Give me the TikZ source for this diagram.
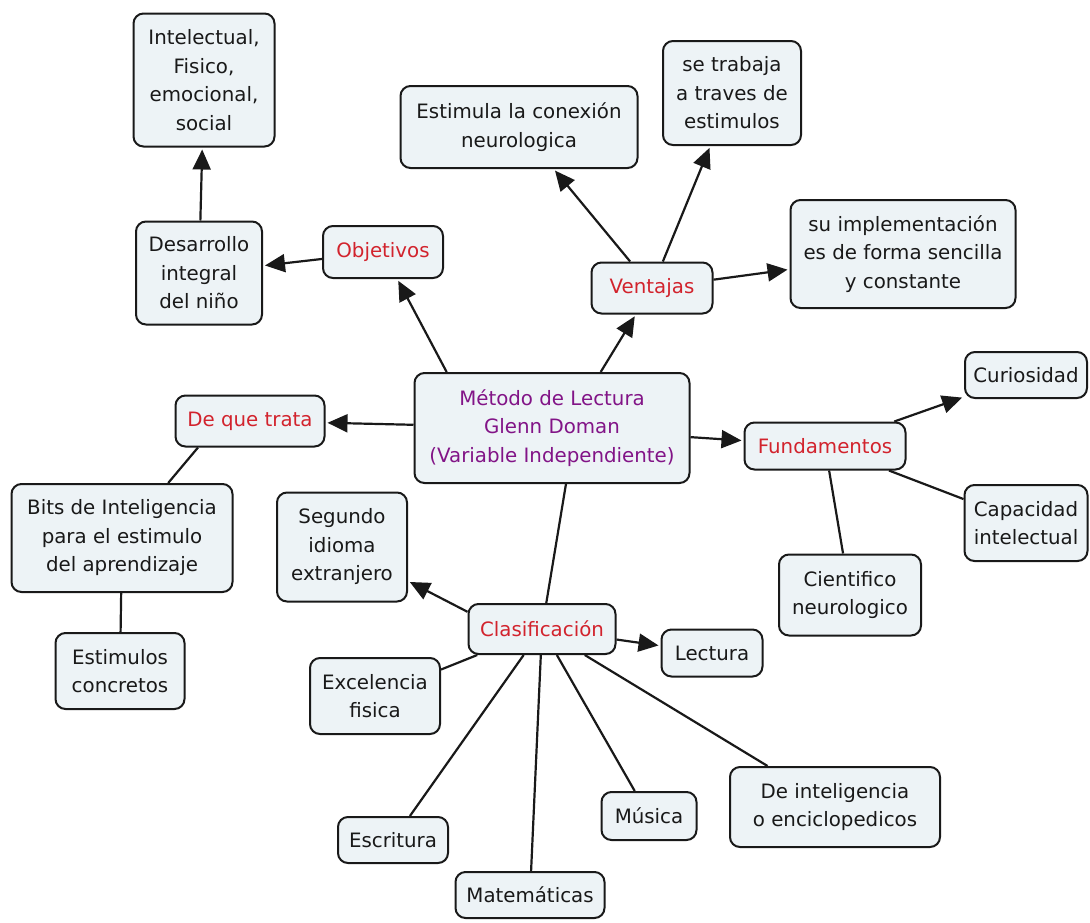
\documentclass[tikz,border=0pt]{standalone}
\usepackage{fontspec}
\setmainfont{DejaVu Sans}
\usetikzlibrary{arrows.meta}
\definecolor{boxfill}{RGB}{237,243,246}
\definecolor{catred}{RGB}{210,35,45}
\definecolor{mainpurple}{RGB}{130,20,135}

\begin{document}
\begin{tikzpicture}[
  x=1pt, y=-1pt,
  every node/.style={rectangle, rounded corners=10pt, draw=black!90, line width=2pt, fill=boxfill, align=center, inner sep=2pt, text=black!90, font=\fontsize{19.8}{28.5}\selectfont},
  cat/.style={text=catred},
  link/.style={line width=2.2pt, black!90},
  arr/.style={link, -{Triangle[length=20pt, width=18pt]}, shorten >=2pt}
]
\useasboundingbox (0,0) rectangle (1090,922);

% Nodes
\node[minimum width=275pt, minimum height=110pt, text=mainpurple] (main) at (552,428) {Método de Lectura\\Glenn Doman\\(Variable Independiente)};
\node[cat, minimum width=120pt, minimum height=52pt] (obj) at (383,252) {Objetivos};
\node[minimum width=126pt, minimum height=103pt] (des) at (199,273) {Desarrollo\\integral\\del niño};
\node[minimum width=141pt, minimum height=133pt] (intel) at (204,80) {Intelectual,\\Fisico,\\emocional,\\social};
\node[cat, minimum width=121pt, minimum height=51pt] (ven) at (652,288) {Ventajas};
\node[minimum width=237pt, minimum height=82pt] (estim) at (519,127) {Estimula la conexión\\neurologica};
\node[minimum width=138pt, minimum height=104pt] (trab) at (732,93) {se trabaja\\a traves de\\estimulos};
\node[minimum width=225pt, minimum height=108pt] (impl) at (903,254) {su implementación\\es de forma sencilla\\y constante};
\node[cat, minimum width=149pt, minimum height=51pt] (dq) at (250,421) {De que trata};
\node[minimum width=221pt, minimum height=108pt] (bits) at (122,538) {Bits de Inteligencia\\para el estimulo\\del aprendizaje};
\node[minimum width=129pt, minimum height=76pt] (conc) at (120,671) {Estimulos\\concretos};
\node[cat, minimum width=161pt, minimum height=47pt] (fund) at (825,446) {Fundamentos};
\node[minimum width=122pt, minimum height=46pt] (curi) at (1026,375) {Curiosidad};
\node[minimum width=123pt, minimum height=76pt] (capa) at (1026,523) {Capacidad\\intelectual};
\node[minimum width=142pt, minimum height=81pt] (cien) at (850,595) {Cientifico\\neurologico};
\node[cat, minimum width=147pt, minimum height=50pt] (clas) at (542,629) {Clasificación};
\node[minimum width=130pt, minimum height=109pt] (seg) at (342,547) {Segundo\\idioma\\extranjero};
\node[minimum width=101pt, minimum height=47pt] (lect) at (712,653) {Lectura};
\node[minimum width=130pt, minimum height=76pt] (exc) at (375,696) {Excelencia\\fisica};
\node[minimum width=110pt, minimum height=46pt] (escr) at (393,840) {Escritura};
\node[minimum width=149pt, minimum height=46pt] (mate) at (530,895) {Matemáticas};
\node[minimum width=95pt, minimum height=48pt] (musi) at (649,816) {Música};
\node[minimum width=210pt, minimum height=80pt] (intg) at (835,807) {De inteligencia\\o enciclopedicos};

% Edges
\draw[arr] (main.152) -- (obj);
\draw[arr] (obj) -- (des);
\draw[arr] (des) -- (intel);
\draw[arr] (main.49) -- (ven);
\draw[arr] (ven) -- (estim);
\draw[arr] (ven) -- (trab);
\draw[arr] (ven) -- (impl);
\draw[arr] (main) -- (dq);
\draw[link] (dq.207) -- (bits);
\draw[link] (bits) -- (conc);
\draw[arr] (main) -- (fund);
\draw[arr] (fund) -- (curi);
\draw[link] (fund) -- (capa);
\draw[link] (fund) -- (cien);
\draw[link] (main.-76) -- (clas);
\draw[arr] (clas.167) -- (seg);
\draw[arr] (clas) -- (lect);
\draw[link] (clas) -- (exc);
\draw[link] (clas) -- (escr);
\draw[link] (clas) -- (mate);
\draw[link] (clas) -- (musi);
\draw[link] (clas) -- (intg);

\end{tikzpicture}
\end{document}
